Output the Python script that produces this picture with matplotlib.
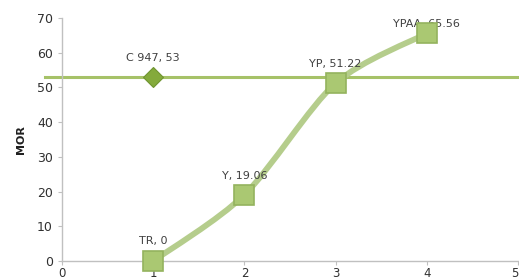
import matplotlib.pyplot as plt
from matplotlib.path import Path
from matplotlib.patches import PathPatch

# data
labels = ["TR", "Y", "YP", "YPAA"]
xs = [1, 2, 3, 4]
ys = [0, 19.06, 51.22, 65.56]
ref_label = "C 947"
ref_x = 1
ref_y = 53

fig = plt.figure(figsize=(5.19, 2.8), dpi=100)
ax = fig.add_axes([62 / 519, 1 - 261 / 280, (518 - 62) / 519, (261 - 18) / 280])

# smooth curve (catmull-rom -> bezier) through the points
pts = list(zip(xs, ys))
verts = [pts[0]]
codes = [Path.MOVETO]
for i in range(len(pts) - 1):
    p0 = pts[i - 1] if i > 0 else pts[i]
    p1 = pts[i]
    p2 = pts[i + 1]
    p3 = pts[i + 2] if i + 2 < len(pts) else pts[i + 1]
    c1 = (p1[0] + (p2[0] - p0[0]) / 7, p1[1] + (p2[1] - p0[1]) / 7)
    c2 = (p2[0] - (p3[0] - p1[0]) / 7, p2[1] - (p3[1] - p1[1]) / 7)
    verts += [c1, c2, p2]
    codes += [Path.CURVE4] * 3
ax.add_patch(PathPatch(Path(verts, codes), fill=False, edgecolor="#b5cd8c",
                       lw=4.2, capstyle="round", zorder=3))

# horizontal reference line
ax.plot([-0.19, 5.1], [ref_y, ref_y], color="#a6c268", lw=2.2, clip_on=False, zorder=2)

ax.plot(xs, ys, ls="none", marker="s", ms=15, mfc="#aac872", mec="#94b35e",
        mew=1.2, zorder=4, clip_on=False)
ax.plot([ref_x], [ref_y], ls="none", marker="D", ms=10, mfc="#84aa3c", mec="#6f9530",
        mew=0.8, zorder=4)

txt = "#404040"
offsets = [11, 10, 10, 3]
for lab, x, y, off in zip(labels, xs, ys, offsets):
    ax.annotate(f"{lab}, {y:g}", (x, y), xytext=(0, off),
                textcoords="offset points", ha="center", va="bottom",
                fontsize=8, color=txt, family="DejaVu Sans", zorder=3.5)
ax.annotate(f"{ref_label}, {ref_y}", (ref_x, ref_y), xytext=(0, 10),
            textcoords="offset points", ha="center", va="bottom",
            fontsize=8, color=txt, family="DejaVu Sans")

ax.set_xlim(0, 5)
ax.set_ylim(0, 70)
ax.set_xticks(range(6))
ax.set_yticks(range(0, 71, 10))
for s in ["top", "right"]:
    ax.spines[s].set_visible(False)
for s in ["left", "bottom"]:
    ax.spines[s].set_color("#c0c0c0")
    ax.spines[s].set_linewidth(1)
ax.tick_params(colors="#c0c0c0", labelcolor="#303030", labelsize=9, length=3)
ax.tick_params(axis="x", pad=1, labelsize=8.5)
ax.get_xticklabels()[-1].set_horizontalalignment("right")
ax.set_ylabel("MOR", fontsize=8, fontweight="bold", color="#202020", labelpad=8)

fig.savefig("out.png", dpi=100)
